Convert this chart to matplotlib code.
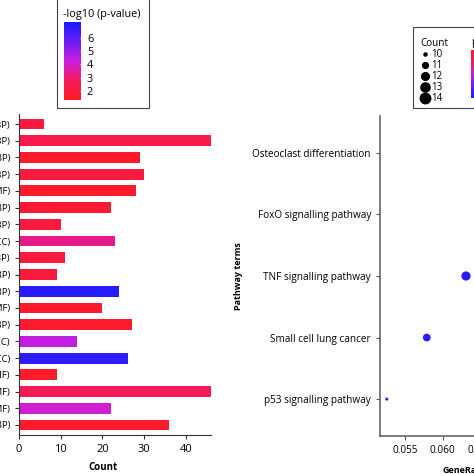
import numpy as np
import matplotlib
matplotlib.use("Agg")
import matplotlib.pyplot as plt
from matplotlib.colors import LinearSegmentedColormap, Normalize
from matplotlib.patches import Rectangle
from matplotlib.lines import Line2D

plt.rcParams['font.family'] = ['Open Sans', 'DejaVu Sans']

# --- datos panel izquierdo (barras, de arriba a abajo) ---
go_terms = [
    "cellular response to hypoxia (BP)",
    "positive regulation of transcription (BP)",
    "inflammatory response (BP)",
    "negative regulation of apoptotic process (BP)",
    "protein binding (MF)",
    "response to drug (BP)",
    "cellular response to lipopolysaccharide (BP)",
    "cytosol (CC)",
    "aging (BP)",
    "response to estradiol (BP)",
    "positive regulation of gene expression (BP)",
    "enzyme binding (MF)",
    "signal transduction (BP)",
    "extracellular space (CC)",
    "nucleus (CC)",
    "cytokine activity (MF)",
    "identical protein binding (MF)",
    "transcription factor binding (MF)",
    "apoptotic process (BP)",
]
go_count = [6, 46, 29, 30, 28, 22, 10, 23, 11, 9, 24, 20, 27, 14, 26, 9, 46, 22, 36]
go_logp = [1.9, 2.3, 1.5, 2.0, 1.5, 1.7, 2.0, 3.3, 2.0, 2.0, 7.0, 1.5, 1.6, 4.4, 6.8, 1.5, 2.6, 4.1, 1.6]

# --- datos panel derecho (puntos) ---
kegg_terms = ["p53 signalling pathway", "Small cell lung cancer", "TNF signalling pathway",
              "FoxO signalling pathway", "Osteoclast differentiation"]
kegg_ratio = [0.0526, 0.0579, 0.0631, 0.0700, 0.0725]
kegg_count = [10, 12, 13, 11, 14]
kegg_padj = [0.004, 0.003, 0.002, 0.006, 0.008]

cmap = LinearSegmentedColormap.from_list(
    "rb", ['#ff1a24', '#f41a5c', '#cc1ee0', '#6a1ef4', '#1a1aff'])

W = H = 474.0
def fx(px):
    return px / W
def fy(px):
    return 1 - px / H

fig = plt.figure(figsize=(4.74, 4.74), dpi=100)

# --- Panel izquierdo: barras ---
ax1 = fig.add_axes([fx(19), fy(435), fx(211) - fx(19), fy(114) - fy(435)])
norm1 = Normalize(1.3, 7.2)
ypos = np.arange(len(go_terms))
ax1.barh(ypos, go_count, height=0.65, color=cmap(norm1(np.array(go_logp))))
ax1.set_ylim(len(go_terms) - 0.4, -0.6)
ax1.set_xlim(0, 46)
ax1.set_yticks(ypos)
ax1.set_yticklabels(go_terms, fontsize=6.8)
ax1.set_xticks([0, 10, 20, 30, 40])
ax1.tick_params(axis='x', labelsize=8, length=3, color='#333333', width=0.8)
ax1.tick_params(axis='y', length=3, color='#333333', width=0.8, pad=3.5)
for s in ['top', 'right']:
    ax1.spines[s].set_visible(False)
for s in ['left', 'bottom']:
    ax1.spines[s].set_color('#333333')
    ax1.spines[s].set_linewidth(0.8)
ax1.set_xlabel('Count', fontsize=7, fontweight='bold')
ax1.xaxis.set_label_coords((103 - 19) / 192, -0.085)

# leyenda de color izquierda
fig.patches.append(Rectangle((fx(57), fy(108)), fx(149) - fx(57), fy(-5) - fy(108),
                             transform=fig.transFigure, fill=False, ec='#444444', lw=0.8))
fig.text(fx(63), fy(14), '-log10 (p-value)', fontsize=7.8, va='center', ha='left')
cax1 = fig.add_axes([fx(64), fy(100), fx(80) - fx(64), fy(22) - fy(100)])
grad = np.linspace(1.3, 7.2, 200).reshape(-1, 1)
cax1.imshow(grad, aspect='auto', cmap=cmap, norm=norm1, origin='lower',
            extent=[0, 1, 1.3, 7.2])
cax1.set_xticks([])
cax1.yaxis.tick_right()
cax1.set_yticks([2, 3, 4, 5, 6])
cax1.tick_params(axis='y', length=2, color='white', labelsize=7.8, pad=3)
for s in cax1.spines.values():
    s.set_visible(False)

# --- Panel derecho: puntos ---
cmap2 = cmap.reversed()
ax2 = fig.add_axes([fx(380), fy(436), fx(558) - fx(380), fy(116) - fy(436)])
norm2 = Normalize(0.0, 0.05)
sizes = 5 + (np.array(kegg_count) - 10) * 13
ax2.scatter(kegg_ratio, np.arange(len(kegg_terms)), s=sizes,
            c=cmap2(norm2(np.array(kegg_padj))), edgecolors='none', zorder=3)
ax2.set_xlim(0.0517, 0.0753)
ax2.set_ylim(-0.6, len(kegg_terms) - 0.4)
ax2.set_yticks(np.arange(len(kegg_terms)))
ax2.set_yticklabels(kegg_terms, fontsize=7.2)
ax2.set_xticks([0.055, 0.060, 0.065, 0.070, 0.075])
ax2.set_xticklabels(['0.055', '0.060', '0.065', '0.070', '0.075'])
ax2.tick_params(axis='both', labelsize=7.2, length=3, color='#555555', width=0.8)
for s in ['top', 'right']:
    ax2.spines[s].set_visible(False)
for s in ['left', 'bottom']:
    ax2.spines[s].set_color('#666666')
    ax2.spines[s].set_linewidth(1.2)
ax2.set_xlabel('GeneRatio', fontsize=6.5, fontweight='bold')
ax2.set_ylabel('Pathway terms', fontsize=6.5, fontweight='bold')
ax2.yaxis.set_label_coords((243 - 380) / 178, 0.5)
ax2.xaxis.set_label_coords(0.48, -0.095)

# leyenda derecha (tamaño y color)
fig.patches.append(Rectangle((fx(413), fy(108)), fx(530) - fx(413), fy(27) - fy(108),
                             transform=fig.transFigure, fill=False, ec='#444444', lw=0.8))
size_vals = [10, 11, 12, 13, 14]
handles = [Line2D([], [], ls='none', marker='o', color='black',
                  markersize=np.sqrt(5 + (v - 10) * 13)) for v in size_vals]
leg = fig.legend(handles, [str(v) for v in size_vals], title='Count',
                 loc='upper left', bbox_to_anchor=(fx(414), fy(31)),
                 frameon=False, fontsize=7.0, title_fontsize=7.2,
                 labelspacing=0.0, handletextpad=0.2, handlelength=0.9,
                 handleheight=0.5, borderpad=0.2, alignment='left')
fig.text(fx(471), fy(43), 'p.adjust', fontsize=7.2, va='center', ha='left')
cax2 = fig.add_axes([fx(471), fy(98), fx(486) - fx(471), fy(50) - fy(98)])
cax2.imshow(np.linspace(0, 1, 200).reshape(-1, 1), aspect='auto', cmap=cmap2,
            origin='lower')
cax2.set_xticks([])
cax2.set_yticks([])
for s in cax2.spines.values():
    s.set_visible(False)

fig.savefig('out.png', dpi=100)
